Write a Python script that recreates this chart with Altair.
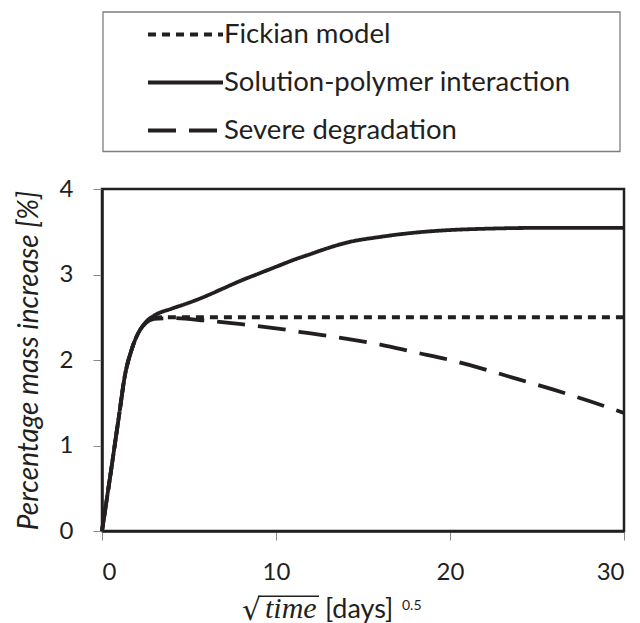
import altair as alt
import pandas as pd

series_names = ["Fickian model", "Solution-polymer interaction", "Severe degradation"]

fick_x = [0, 0.5, 1.0, 1.3, 1.7, 2.0, 2.5, 3.0, 3.5, 4.5, 30]
fick_y = [0, 0.68, 1.38, 1.8, 2.12, 2.28, 2.43, 2.49, 2.5, 2.5, 2.5]

sol_x = [0, 0.5, 1.0, 1.3, 1.7, 2.0, 2.5, 3.0, 4, 5, 6, 7, 8, 9, 10, 11, 12, 13, 14, 16, 18, 20, 22, 25, 30]
sol_y = [0, 0.68, 1.38, 1.8, 2.12, 2.28, 2.44, 2.52, 2.6, 2.67, 2.75, 2.84, 2.93, 3.01, 3.09, 3.17,
         3.24, 3.31, 3.37, 3.44, 3.49, 3.52, 3.535, 3.545, 3.545]

deg_x = [0, 0.5, 1.0, 1.3, 1.7, 2.0, 2.5, 3.0, 4, 6, 8, 10, 12, 14, 16, 18, 20, 22, 24, 26, 28, 30]
deg_y = [0, 0.68, 1.38, 1.8, 2.12, 2.28, 2.43, 2.48, 2.49, 2.46, 2.42, 2.37, 2.31, 2.25, 2.18, 2.09,
         2.00, 1.89, 1.77, 1.65, 1.52, 1.38]

x_ticks = [0, 10, 20, 30]
y_ticks = [0, 1, 2, 3, 4]

rows = []
for name, xs, ys in zip(series_names, [fick_x, sol_x, deg_x], [fick_y, sol_y, deg_y]):
    for i, (x, y) in enumerate(zip(xs, ys)):
        rows.append({"series": name, "t": x, "m": y, "order": i})
df = pd.DataFrame(rows)

W, H = 522, 342
INK = "#231f20"
FONT = "Lato"

lines = alt.Chart(df).mark_line(strokeWidth=3.8, color=INK, interpolate="monotone").encode(
    x=alt.X("t:Q", scale=alt.Scale(domain=[0, 30], nice=False),
            axis=alt.Axis(values=x_ticks, title=None, labelPadding=20)),
    y=alt.Y("m:Q", scale=alt.Scale(domain=[0, 4], nice=False),
            axis=alt.Axis(values=y_ticks, title="Percentage mass increase [%]",
                          labelPadding=20, titlePadding=16, titleFontStyle="italic")),
    strokeDash=alt.StrokeDash(
        "series:N",
        scale=alt.Scale(domain=series_names, range=[[8, 6], [1, 0], [28, 13]]),
        legend=alt.Legend(title=None, orient="none", legendX=69, legendY=-169,
                          symbolType="M-3,0H3", symbolSize=625, symbolStrokeWidth=4,
                          symbolStrokeColor=INK, symbolFillColor="transparent",
                          labelFont=FONT, labelFontSize=27.5,
                          labelColor=INK, labelLimit=600, labelOffset=24, rowPadding=20),
    ),
    order="order:Q",
)

one = alt.Data(values=[{"k": 1}])

box = alt.Chart(one).mark_rect(fill=None, stroke="#7f7f7f", strokeWidth=1.3).encode(
    x=alt.value(1), x2=alt.value(518), y=alt.value(-177), y2=alt.value(-37.5)
)

sqrt_sign = alt.Chart(one).mark_text(text="√", font="DejaVu Serif", fontSize=30, align="left",
                                     baseline="alphabetic", color=INK).encode(
    x=alt.value(140), y=alt.value(431))
vinculum = alt.Chart(one).mark_rect(color=INK).encode(
    x=alt.value(156), x2=alt.value(217), y=alt.value(406.5), y2=alt.value(408))
time_txt = alt.Chart(one).mark_text(text="time", font="Liberation Serif", fontStyle="italic", fontSize=30,
                                    align="left", baseline="alphabetic", color=INK).encode(
    x=alt.value(163), y=alt.value(429))
days_txt = alt.Chart(one).mark_text(text="[days]", font=FONT, fontSize=27, align="left",
                                    baseline="alphabetic", color=INK).encode(
    x=alt.value(223), y=alt.value(429))
exp_txt = alt.Chart(one).mark_text(text="0.5", font=FONT, fontSize=14, align="left",
                                   baseline="alphabetic", color=INK).encode(
    x=alt.value(300), y=alt.value(421))

chart = alt.layer(box, lines, sqrt_sign, vinculum, time_txt, days_txt, exp_txt).properties(
    width=W, height=H,
    background="white",
    autosize=alt.AutoSizeParams(type="none"),
    padding={"left": 94, "top": 181, "right": 8, "bottom": 100},
).configure_view(
    stroke=INK, strokeWidth=2.5
).configure_axis(
    grid=False, domainColor=INK, domainWidth=2.5, tickColor="#888888", tickSize=9, tickWidth=1,
    labelFont=FONT, labelFontSize=24, labelColor=INK,
    titleFont=FONT, titleFontSize=28, titleFontWeight="normal", titleColor=INK,
)

chart.save("out.html", embed_options={"renderer": "svg", "actions": False})
